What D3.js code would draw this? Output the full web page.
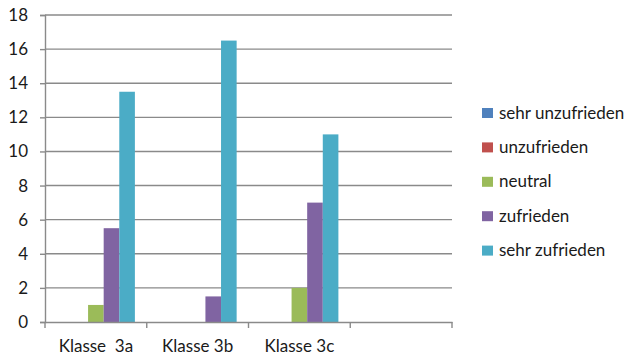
<!DOCTYPE html>
<html>
<head>
<meta charset="utf-8">
<script src="https://cdn.jsdelivr.net/npm/d3@7"></script>
<style>
  body { margin: 0; background: #fff; }
  svg text { font-family: "Lato", "Open Sans", sans-serif; fill: #1a1a1a; white-space: pre; }
</style>
</head>
<body>
<svg id="chart" width="630" height="357"></svg>
<script>
// Survey results per class
const categories = ["Klasse  3a", "Klasse 3b", "Klasse 3c", ""];
const seriesNames = ["sehr unzufrieden", "unzufrieden", "neutral", "zufrieden", "sehr zufrieden"];
const sehrUnzufrieden = [0, 0, 0, null];
const unzufrieden = [0, 0, 0, null];
const neutral = [1, 0, 2, null];
const zufrieden = [5.5, 1.5, 7, null];
const sehrZufrieden = [13.5, 16.5, 11, null];
const yTicks = [0, 2, 4, 6, 8, 10, 12, 14, 16, 18];
const colors = ["#4F81BD", "#C0504D", "#9BBB59", "#8064A2", "#4BACC6"];

const seriesValues = [sehrUnzufrieden, unzufrieden, neutral, zufrieden, sehrZufrieden];

const svg = d3.select("#chart");
const plotLeft = 45, plotRight = 452, plotTop = 15, plotBottom = 322;
const fontSize = 17;

const x = d3.scaleBand().domain(categories).range([plotLeft, plotRight]).padding(0);
const x1 = d3.scaleBand().domain(seriesNames).range([0, x.bandwidth()])
  .paddingInner(0).paddingOuter(0.76);
const y = d3.scaleLinear().domain([0, 18]).range([plotBottom, plotTop]);

// horizontal gridlines
svg.append("g").selectAll("line").data(yTicks.filter(t => t > 0)).join("line")
  .attr("x1", plotLeft).attr("x2", plotRight)
  .attr("y1", d => y(d)).attr("y2", d => y(d))
  .attr("stroke", "#8a8a8a").attr("stroke-width", 1.4);

// y axis
const yAxis = d3.axisLeft(y).tickValues(yTicks).tickSize(5).tickPadding(12).tickFormat(d3.format("d"));
const gy = svg.append("g").attr("transform", `translate(${plotLeft},0)`).call(yAxis);
gy.select(".domain").attr("stroke", "#8a8a8a").attr("stroke-width", 1.4);
gy.selectAll(".tick line").attr("stroke", "#8a8a8a").attr("stroke-width", 1.4);
gy.selectAll(".tick text").attr("font-size", fontSize).attr("font-family", "Lato, sans-serif").attr("fill", "#1a1a1a");

// bars
const groups = svg.append("g").selectAll("g").data(categories).join("g")
  .attr("transform", d => `translate(${x(d)},0)`);
groups.selectAll("rect")
  .data((c, i) => seriesNames.map((s, j) => ({ s, j, v: seriesValues[j][i] })).filter(d => d.v))
  .join("rect")
  .attr("x", d => x1(d.s))
  .attr("width", x1.bandwidth())
  .attr("y", d => y(d.v))
  .attr("height", d => y(0) - y(d.v))
  .attr("fill", d => colors[d.j]);

// x axis
const xAxis = d3.axisBottom(x).tickSize(0).tickPadding(15);
const gx = svg.append("g").attr("transform", `translate(0,${plotBottom})`).call(xAxis);
gx.select(".domain").attr("stroke", "#8a8a8a").attr("stroke-width", 1.4);
gx.selectAll(".tick text").attr("font-size", fontSize).attr("font-family", "Lato, sans-serif")
  .attr("fill", "#1a1a1a").attr("dy", "0.9em");
// category boundary ticks
const bounds = categories.map(c => x(c)).concat([plotRight]);
gx.append("g").selectAll("line").data(bounds).join("line")
  .attr("x1", d => d).attr("x2", d => d).attr("y1", 0).attr("y2", 6)
  .attr("stroke", "#8a8a8a").attr("stroke-width", 1.4);

// legend
const legend = svg.append("g").attr("transform", "translate(482,108)");
const rows = legend.selectAll("g").data(seriesNames).join("g")
  .attr("transform", (d, i) => `translate(0,${i * 34.4})`);
rows.append("rect").attr("width", 11).attr("height", 10).attr("fill", (d, i) => colors[i]);
rows.append("text").attr("x", 17).attr("y", 10.5).attr("font-size", fontSize).text(d => d);
</script>
</body>
</html>
